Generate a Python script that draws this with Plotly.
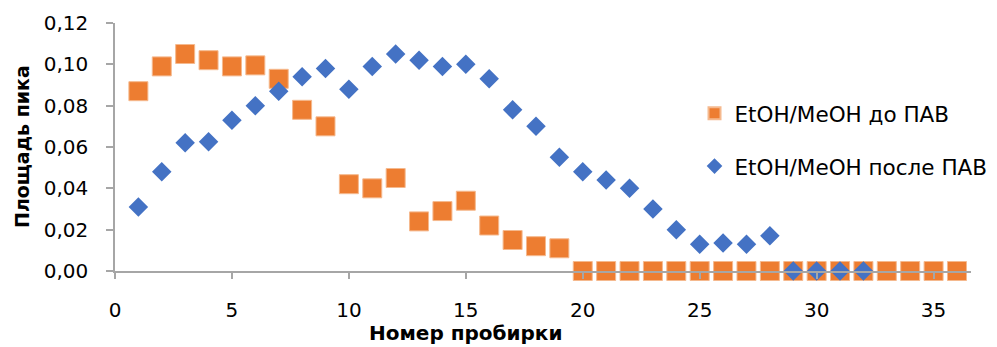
import plotly.graph_objects as go

# Tube numbers
tubes_before = list(range(1, 37))
tubes_after = list(range(1, 33))

# Peak area, EtOH/MeOH before surfactant
area_before = [0.087, 0.099, 0.105, 0.102, 0.099, 0.0995, 0.093, 0.078, 0.070,
               0.042, 0.040, 0.045, 0.024, 0.029, 0.034, 0.022, 0.015, 0.012,
               0.011] + [0.0] * 17

# Peak area, EtOH/MeOH after surfactant
area_after = [0.031, 0.048, 0.062, 0.0625, 0.073, 0.080, 0.087, 0.094, 0.098,
              0.088, 0.099, 0.105, 0.102, 0.099, 0.100, 0.093, 0.078, 0.070,
              0.055, 0.048, 0.044, 0.040, 0.030, 0.020, 0.013, 0.0135, 0.013,
              0.017, 0.0, 0.0, 0.0, 0.0]

name_before = "EtOH/MeOH до ПАВ"
name_after = "EtOH/MeOH после ПАВ"
x_title = "Номер пробирки"
y_title = "Площадь пика"

FONT = "'DejaVu Sans', 'Noto Sans', sans-serif"
ORANGE = "#ED7D31"
BLUE = "#4472C4"
AXIS = "#A6A6A6"

fig = go.Figure()
fig.add_trace(go.Scatter(
    x=tubes_before, y=area_before, mode="markers", name=name_before,
    legendgroup="a", cliponaxis=False,
    marker=dict(symbol="square", size=19, color=ORANGE,
                line=dict(width=1, color="#F5B98E")),
))
fig.add_trace(go.Scatter(
    x=tubes_after, y=area_after, mode="markers", name=name_after,
    legendgroup="b", cliponaxis=False,
    marker=dict(symbol="diamond", size=15, color=BLUE,
                line=dict(width=0)),
))

fig.update_layout(
    width=997, height=347,
    margin=dict(l=115, r=26, t=23, b=76, autoexpand=False),
    paper_bgcolor="white", plot_bgcolor="white",
    separators=", ",
    font=dict(family=FONT, size=20, color="#000000"),
    showlegend=True,
    legend=dict(
        x=0.677, y=0.719, xanchor="left", yanchor="top",
        bgcolor="rgba(0,0,0,0)",
        font=dict(family=FONT, size=21.5, color="#000000"),
        traceorder="grouped", tracegroupgap=22,
        itemsizing="constant",
    ),
    xaxis=dict(
        range=[0, 36.6], tickmode="linear", tick0=0, dtick=5,
        showgrid=False, zeroline=False,
        showline=True, linecolor=AXIS, linewidth=1.5,
        ticks="outside", ticklen=6, tickcolor=AXIS, tickwidth=1.5,
        ticklabelstandoff=14,
        tickfont=dict(family=FONT, size=20, color="#000000"),
        layer="above traces",
    ),
    yaxis=dict(
        range=[0, 0.12], tickmode="linear", tick0=0, dtick=0.02,
        tickformat=".2f",
        showgrid=False, zeroline=False,
        showline=True, linecolor=AXIS, linewidth=1.5,
        ticks="outside", ticklen=7, tickcolor=AXIS, tickwidth=1.5,
        ticklabelstandoff=14,
        tickfont=dict(family=FONT, size=20, color="#000000"),
        layer="above traces",
    ),
    annotations=[
        dict(text="<b>" + x_title + "</b>", xref="paper", yref="paper",
             x=(465 - 115) / 856, y=-(333 - 271) / 248,
             xanchor="center", yanchor="middle", showarrow=False,
             font=dict(family=FONT, size=20, color="#000000")),
        dict(text="<b>" + y_title + "</b>", xref="paper", yref="paper",
             x=-(115 - 22) / 856, y=(271 - 147) / 248, textangle=-90,
             xanchor="center", yanchor="middle", showarrow=False,
             font=dict(family=FONT, size=19, color="#000000")),
    ],
)

fig.write_html("out.html")
